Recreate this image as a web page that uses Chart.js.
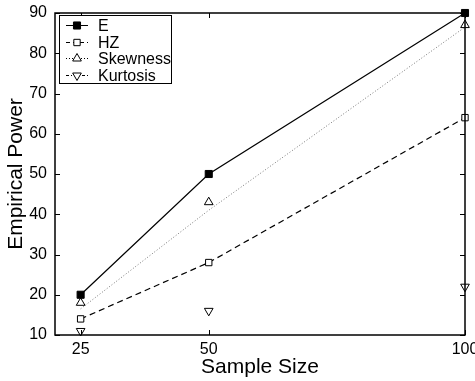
<!DOCTYPE html>
<html>
<head>
<meta charset="utf-8">
<script src="https://cdn.jsdelivr.net/npm/chart.js@4.4.0/dist/chart.umd.min.js"></script>
<style>
  html, body { margin: 0; padding: 0; background: #fff; }
  #wrap { width: 475px; height: 381px; }
</style>
</head>
<body>
<div id="wrap"><canvas id="chart" width="475" height="381"></canvas></div>
<script>
// data
const sampleSizes = [25, 50, 100];
const powerE = [20, 50, 90];
const powerHZ = [14, 28, 64];
const powerSkew = [18, 43, 87];
const powerKurt = [11, 16, 22];
const skewLine = [16.5, 41, 86.5];   // dotted line drawn for Skewness
const yTicks = [10, 20, 30, 40, 50, 60, 70, 80, 90];

const FONT = 'Liberation Sans, Arial, Helvetica, sans-serif';

function pts(vals) {
    return sampleSizes.map((x, i) => ({ x: x, y: vals[i] }));
}

// box around the axes + inward ticks (matlab look)
const framePlugin = {
    id: 'frame',
    afterDraw(chart) {
        const ctx = chart.ctx;
        const a = chart.chartArea;
        const xs = chart.scales.x, ys = chart.scales.y;
        ctx.save();
        ctx.strokeStyle = '#000';
        ctx.lineWidth = 1.5;
        ctx.strokeRect(a.left, a.top, a.right - a.left, a.bottom - a.top);
        ctx.lineWidth = 1;
        ctx.beginPath();
        yTicks.forEach(v => {
            const y = Math.round(ys.getPixelForValue(v)) + 0.5;
            ctx.moveTo(a.left, y); ctx.lineTo(a.left + 5, y);
            ctx.moveTo(a.right, y); ctx.lineTo(a.right - 5, y);
        });
        sampleSizes.forEach(v => {
            const x = Math.round(xs.getPixelForValue(v)) + 0.5;
            ctx.moveTo(x, a.bottom); ctx.lineTo(x, a.bottom - 5);
            ctx.moveTo(x, a.top); ctx.lineTo(x, a.top + 5);
        });
        ctx.stroke();
        ctx.restore();
    }
};

// legend box in the top left corner, drawn like the matlab one
const legendPlugin = {
    id: 'mlegend',
    afterDraw(chart) {
        const ctx = chart.ctx;
        const ds = chart.data.datasets.filter(d => d.legendText);
        ctx.save();
        ctx.fillStyle = '#fff';
        ctx.fillRect(59, 15, 112, 68);
        ctx.strokeStyle = '#000';
        ctx.lineWidth = 1;
        ctx.strokeRect(59.5, 15.5, 112, 68);
        ds.forEach((d, i) => {
            const y = Math.round(25 + i * 16.5) + 0.5;
            ctx.save();
            ctx.strokeStyle = '#000';
            ctx.lineWidth = 1;
            ctx.setLineDash(d.legendDash);
            ctx.beginPath();
            ctx.moveTo(66, y); ctx.lineTo(88, y);
            ctx.stroke();
            ctx.setLineDash([]);
            ctx.fillStyle = d.pointBackgroundColor;
            ctx.strokeStyle = '#000';
            Chart.helpers.drawPoint(ctx, {
                pointStyle: d.pointStyle,
                radius: d.pointRadius,
                rotation: d.pointRotation || 0,
                borderWidth: 1
            }, 77, y);
            ctx.restore();
            ctx.fillStyle = '#000';
            ctx.font = '16px ' + FONT;
            ctx.textBaseline = 'middle';
            ctx.fillText(d.legendText, 98, y + 1);
        });
        ctx.restore();
    }
};

const ctx = document.getElementById('chart').getContext('2d');
const chart = new Chart(ctx, {
    type: 'line',
    data: {
        datasets: [
            {
                legendText: 'E', legendDash: [],
                data: pts(powerE),
                borderColor: '#000', borderWidth: 1.2,
                pointStyle: 'rect', pointRadius: 5,
                pointBackgroundColor: '#000', pointBorderColor: '#000', pointBorderWidth: 1,
                clip: false
            },
            {
                legendText: 'HZ', legendDash: [4, 3],
                data: pts(powerHZ),
                borderColor: '#000', borderWidth: 1.2, borderDash: [6, 4],
                pointStyle: 'rect', pointRadius: 4.5,
                pointBackgroundColor: '#fff', pointBorderColor: '#000', pointBorderWidth: 1,
                clip: false
            },
            {
                legendText: 'Skewness', legendDash: [1, 2],
                data: pts(powerSkew),
                showLine: false,
                pointStyle: 'triangle', pointRadius: 5,
                pointBackgroundColor: '#fff', pointBorderColor: '#000', pointBorderWidth: 1,
                clip: false
            },
            {
                legendText: 'Kurtosis', legendDash: [3, 2, 1, 2],
                data: pts(powerKurt),
                showLine: false,
                pointStyle: 'triangle', pointRadius: 5, pointRotation: 180,
                pointBackgroundColor: '#fff', pointBorderColor: '#000', pointBorderWidth: 1,
                clip: false
            },
            {
                data: pts(skewLine),
                borderColor: '#777', borderWidth: 1, borderDash: [1, 2],
                pointRadius: 0,
                clip: false
            }
        ]
    },
    options: {
        responsive: false,
        animation: false,
        devicePixelRatio: 1,
        layout: { padding: { top: 13, right: 10, left: 0, bottom: 0 } },
        plugins: {
            legend: { display: false },
            tooltip: { enabled: false }
        },
        scales: {
            x: {
                type: 'linear',
                min: 20, max: 100,
                afterBuildTicks: s => { s.ticks = sampleSizes.map(v => ({ value: v })); },
                afterFit: s => { s.height = 46; s.paddingLeft = 0; s.paddingRight = 0; },
                grid: { display: false, drawTicks: false },
                border: { display: false },
                ticks: { color: '#000', font: { family: FONT, size: 16 }, padding: 5, maxRotation: 0, autoSkip: false },
                title: { display: true, text: 'Sample Size', color: '#000', font: { family: FONT, size: 21 }, padding: { top: 0, bottom: 1 } }
            },
            y: {
                min: 10, max: 90,
                afterBuildTicks: s => { s.ticks = yTicks.map(v => ({ value: v })); },
                afterFit: s => { s.width = 55; s.paddingTop = 0; s.paddingBottom = 0; },
                grid: { display: false, drawTicks: false },
                border: { display: false },
                ticks: { color: '#000', font: { family: FONT, size: 16 }, padding: 8 },
                title: { display: true, text: 'Empirical Power', color: '#000', font: { family: FONT, size: 21 }, padding: { top: 4, bottom: 0 } }
            }
        }
    },
    plugins: [framePlugin, legendPlugin]
});
</script>
</body>
</html>
